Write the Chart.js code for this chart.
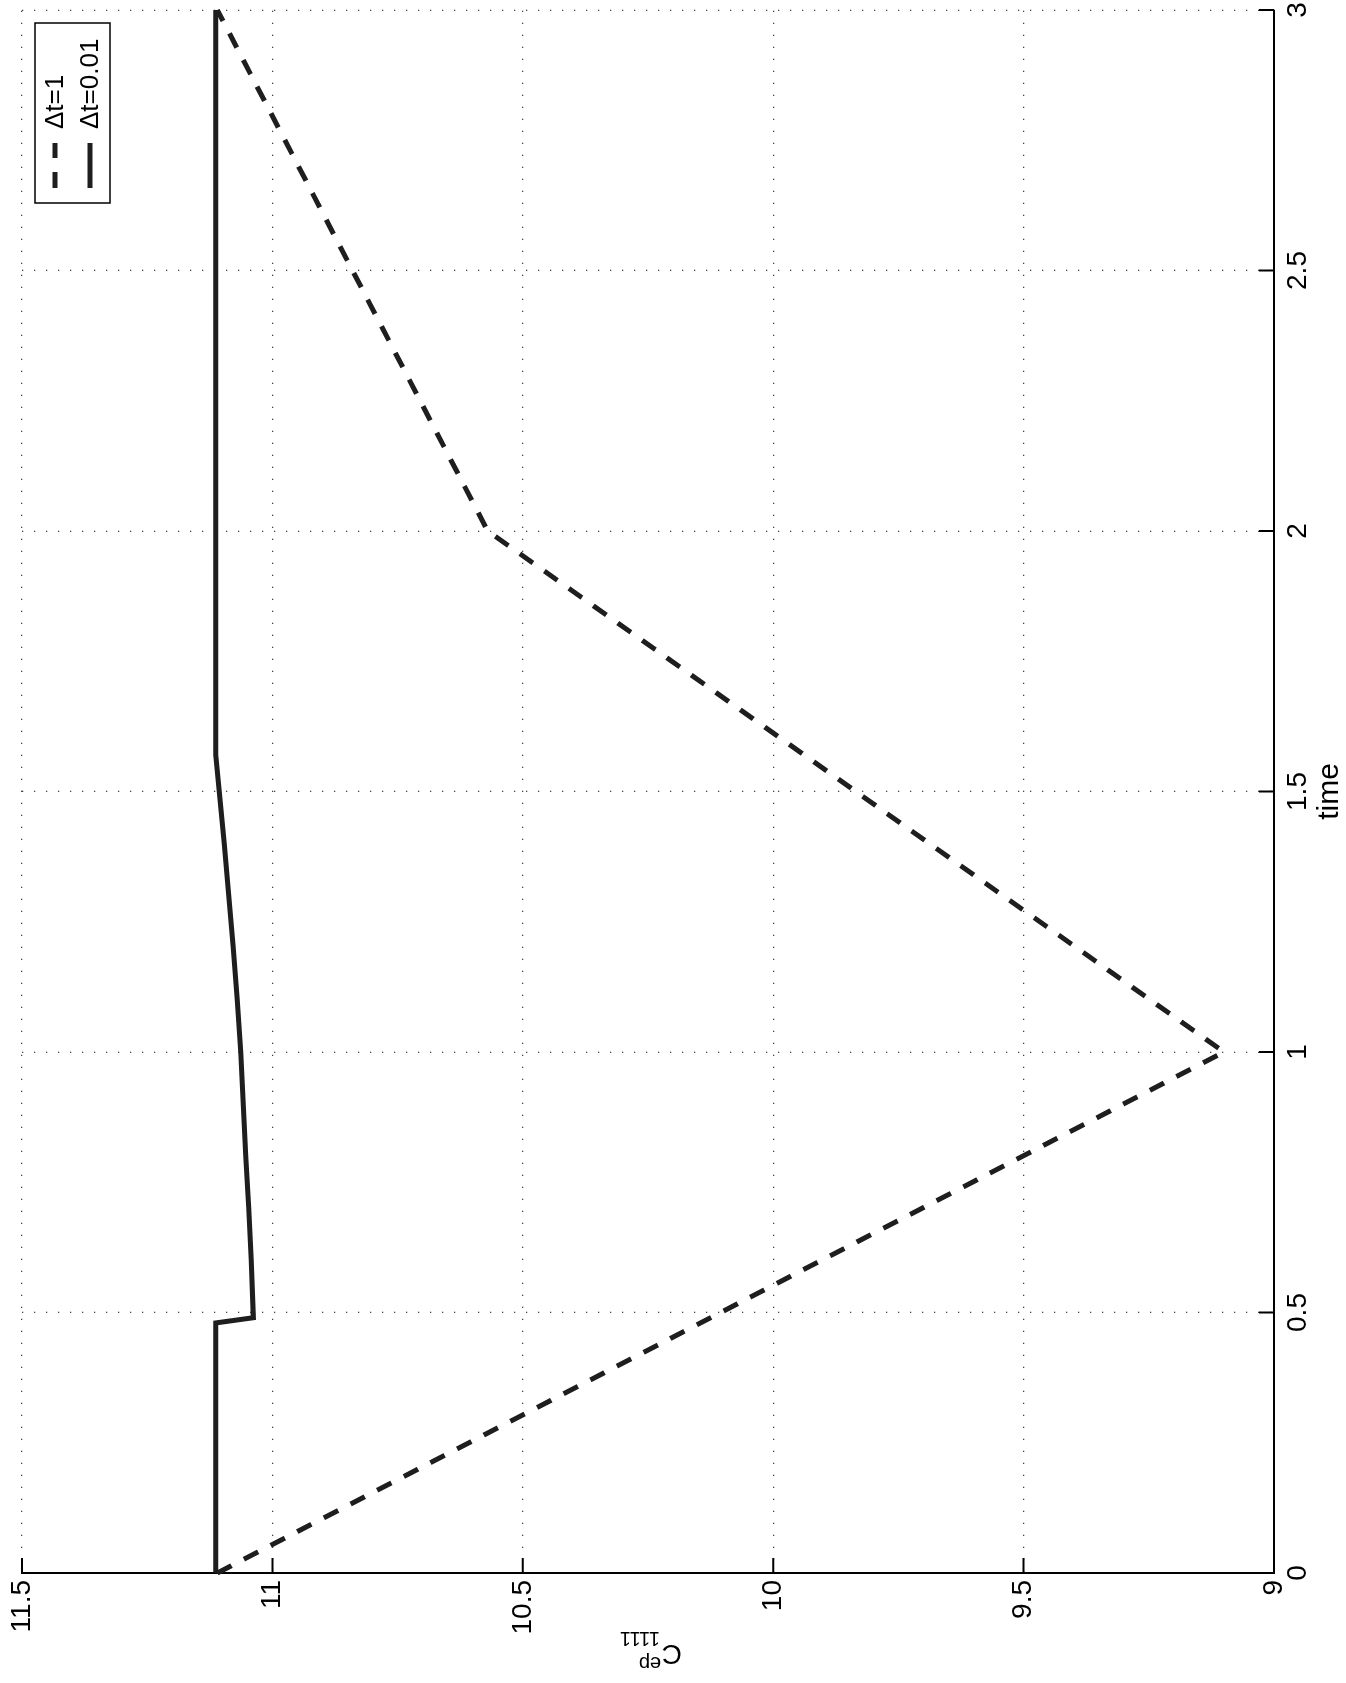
<!DOCTYPE html>
<html>
<head>
<meta charset="utf-8">
<title>Cep1111 vs time</title>
<script src="https://cdn.jsdelivr.net/npm/chart.js@4.4.0/dist/chart.umd.min.js"></script>
<style>
  html, body { margin: 0; padding: 0; background: #fff; overflow: hidden; }
  body { width: 1346px; height: 1683px; position: relative; }
  /* the figure was printed on its side: draw it upright, then turn it */
  #wrap { position: absolute; left: 0; top: 0; width: 1683px; height: 1346px;
          transform-origin: 0 0; transform: translateY(1683px) rotate(-90deg); }
</style>
</head>
<body>
<div id="wrap"><canvas id="plot" width="1683" height="1346"></canvas></div>
<script>
const coarseTime = [0, 1, 2, 3];
const coarseC = [11.11, 9.10, 10.57, 11.11];
const fineTime = [0, 0.48, 0.49, 0.6, 0.7, 0.8, 0.9, 1.0, 1.1, 1.2, 1.3, 1.4, 1.5, 1.57, 3];
const fineC = [11.113, 11.113, 11.038, 11.042, 11.047, 11.053, 11.058, 11.063, 11.070, 11.078, 11.087, 11.096, 11.106, 11.113, 11.113];
const timeTicks = [0, 0.5, 1, 1.5, 2, 2.5, 3];
const cTicks = [9, 9.5, 10, 10.5, 11, 11.5];
const seriesLabels = ['\u0394t=1', '\u0394t=0.01'];

const FONT = "'Liberation Sans', Arial, Helvetica, sans-serif";
const INK = '#1e1e1e';
const toPoints = (xs, ys) => xs.map((x, i) => ({ x, y: ys[i] }));
const setTicks = values => scale => { scale.ticks = values.map(value => ({ value })); };
const plain = v => String(v);

// matlab style: ticks point inward, legend box inside, ylabel with sup/sub
const matlabBits = {
  id: 'matlabBits',
  afterDraw(chart) {
    const { ctx, chartArea: a, scales: { x, y } } = chart;
    ctx.save();
    ctx.strokeStyle = '#000';
    ctx.lineWidth = 2;
    ctx.beginPath();
    x.ticks.forEach(t => {
      const px = x.getPixelForValue(t.value);
      ctx.moveTo(px, a.bottom); ctx.lineTo(px, a.bottom - 15);
    });
    y.ticks.forEach(t => {
      const py = y.getPixelForValue(t.value);
      ctx.moveTo(a.left, py); ctx.lineTo(a.left + 15, py);
    });
    ctx.stroke();

    // legend
    const bw = 180, bh = 75;
    const bx = a.right - 13 - bw, by = a.top + 13;
    ctx.fillStyle = '#fff';
    ctx.fillRect(bx, by, bw, bh);
    ctx.lineWidth = 1.5;
    ctx.strokeRect(bx, by, bw, bh);
    chart.data.datasets.forEach((ds, i) => {
      const ry = by + 20 + i * 35;
      ctx.save();
      ctx.strokeStyle = ds.borderColor;
      ctx.lineWidth = ds.borderWidth;
      ctx.setLineDash(ds.borderDash || []);
      ctx.beginPath();
      ctx.moveTo(bx + 15, ry); ctx.lineTo(bx + 60, ry);
      ctx.stroke();
      ctx.restore();
      ctx.fillStyle = '#000';
      ctx.font = '26px ' + FONT;
      ctx.textBaseline = 'middle';
      ctx.textAlign = 'left';
      ctx.fillText(ds.label, bx + 74, ry + 1);
    });

    // y label C^ep_1111
    const mid = (a.top + a.bottom) / 2;
    ctx.translate(38, mid + 34);
    ctx.rotate(-Math.PI / 2);
    ctx.fillStyle = '#000';
    ctx.textBaseline = 'alphabetic';
    ctx.textAlign = 'left';
    ctx.font = '28px ' + FONT;
    ctx.fillText('C', 0, 0);
    ctx.font = '20px ' + FONT;
    ctx.fillText('ep', 21, -12);
    ctx.fillText('1111', 22, 13);
    ctx.restore();
  }
};

const gridDots = { color: '#444', lineWidth: 1.3, drawTicks: false };
const borderDots = { display: true, color: '#000', width: 2, dash: [1.3, 10.7] };

new Chart(document.getElementById('plot'), {
  type: 'line',
  data: {
    datasets: [
      {
        label: seriesLabels[0],
        data: toPoints(coarseTime, coarseC),
        borderColor: INK,
        borderWidth: 5,
        borderDash: [16, 14],
        pointRadius: 0,
        tension: 0,
        clip: false
      },
      {
        label: seriesLabels[1],
        data: toPoints(fineTime, fineC),
        borderColor: INK,
        borderWidth: 5,
        pointRadius: 0,
        tension: 0,
        clip: false
      }
    ]
  },
  options: {
    responsive: false,
    animation: false,
    layout: { padding: { top: 22, right: 10, bottom: 0, left: 0 } },
    plugins: { legend: { display: false }, tooltip: { enabled: false } },
    scales: {
      x: {
        type: 'linear',
        min: 0,
        max: 3,
        afterBuildTicks: setTicks(timeTicks),
        afterFit: s => { s.height = 72; s.paddingLeft = 0; s.paddingRight = 0; },
        grid: gridDots,
        border: borderDots,
        ticks: { color: '#000', font: { family: FONT, size: 28 }, padding: 7, maxRotation: 0, autoSkip: false, callback: plain },
        title: { display: true, text: 'time', color: '#000', font: { family: FONT, size: 30 }, padding: { top: 0, bottom: -2 } }
      },
      y: {
        type: 'linear',
        min: 9,
        max: 11.5,
        afterBuildTicks: setTicks(cTicks),
        afterFit: s => { s.width = 110; s.paddingTop = 0; s.paddingBottom = 0; },
        grid: gridDots,
        border: borderDots,
        ticks: { color: '#000', font: { family: FONT, size: 28 }, padding: 7, autoSkip: false, callback: plain }
      }
    }
  },
  plugins: [matlabBits]
});
</script>
</body>
</html>
